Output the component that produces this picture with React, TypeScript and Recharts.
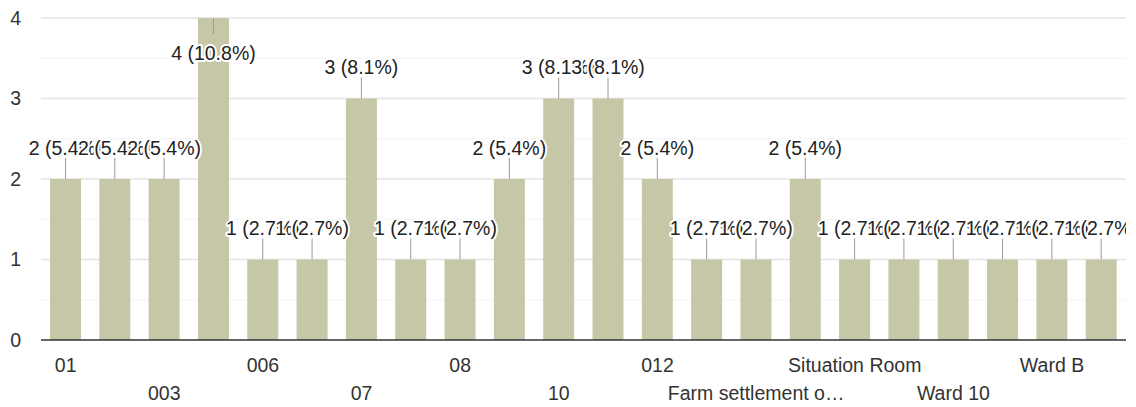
import React from 'react';
import { BarChart, Bar, XAxis, YAxis, CartesianGrid, LabelList } from 'recharts';

// ---- data ----
const categories = [
  '01', '02', '003', '004', '006', '06', '07', '007', '08', '09', '10', '11',
  '012', '12', 'Farm settlement office', 'Kitchen', 'Situation Room', 'Ward 1',
  'Ward 10', 'Ward A', 'Ward B', 'Ward C',
];
const counts = [2, 2, 2, 4, 1, 1, 3, 1, 1, 2, 3, 3, 2, 1, 1, 2, 1, 1, 1, 1, 1, 1];
const yTicks = [0, 1, 2, 3, 4];
const majorGrid = [1, 2, 3, 4];
const minorGrid = [0.5, 1.5, 2.5, 3.5];

const total = counts.reduce((a, b) => a + b, 0);
const data = categories.map((name, i) => ({ name, count: counts[i] }));

// ---- layout ----
const W = 1136;
const H = 407;
const margin = { top: 18, right: 10, left: 0, bottom: 0 };
const Y_AXIS_W = 41;
const X_AXIS_H = 67;
const plotRight = W - margin.right;
const plotTop = margin.top;
const plotBottom = H - margin.bottom - X_AXIS_H;
const FONT = '"Liberation Sans", Arial, Helvetica, sans-serif';
const FS = 19.5;
const BAR_COLOR = '#c6c7a7';

const BarLabel = (props: any) => {
  const { x, y, width, value, index } = props;
  const cx = Number(x) + Number(width) / 2;
  const top = Number(y);
  const inside = top - 40 < plotTop;
  const stemEnd = inside ? top + 16 : top - 21;
  const ty = inside ? top + 35 : top - 31;
  const text = `${value} (${((Number(value) / total) * 100).toFixed(1)}%)`;
  const clipId = `lblclip${index}`;
  return (
    <g>
      <defs>
        <clipPath id={clipId}>
          <rect x={0} y={plotTop} width={plotRight} height={plotBottom - plotTop} />
        </clipPath>
      </defs>
      <g clipPath={`url(#${clipId})`}>
        <line x1={cx} x2={cx} y1={top} y2={stemEnd} stroke="#9a9a9a" strokeWidth={1} />
        <text
          x={cx}
          y={ty}
          dy="0.35em"
          textAnchor="middle"
          fontSize={FS}
          fontFamily={FONT}
          fill="#222"
          stroke="#fff"
          strokeWidth={4}
          strokeLinejoin="round"
          paintOrder="stroke"
        >
          {text}
        </text>
      </g>
    </g>
  );
};

const XTick = (props: any) => {
  const { x, y, payload } = props;
  const idx = categories.indexOf(payload.value);
  if (idx % 2 !== 0) return <g />;
  const row = (idx / 2) % 2;
  let label: string = payload.value;
  if (label.length > 17) label = label.slice(0, 17) + '…';
  return (
    <text
      x={x}
      y={Number(y) + (row ? 53 : 25)}
      dy="0.35em"
      textAnchor="middle"
      fontSize={FS}
      fontFamily={FONT}
      fill="#333"
    >
      {label}
    </text>
  );
};

const YTick = (props: any) => {
  const { x, y, payload } = props;
  return (
    <text x={x} y={y} dy="0.35em" textAnchor="end" fontSize={FS} fontFamily={FONT} fill="#333">
      {payload.value}
    </text>
  );
};

export default function App() {
  return (
    <div style={{ position: 'absolute', left: 0, top: 0, width: W, height: H, background: '#fff' }}>
      <BarChart width={W} height={H} data={data} margin={margin} barSize={31}>
        <CartesianGrid vertical={false} horizontalValues={minorGrid} stroke="#f3f3f3" strokeWidth={1} />
        <CartesianGrid vertical={false} horizontalValues={majorGrid} stroke="#e4e4e4" strokeWidth={1.3} />
        <XAxis
          dataKey="name"
          interval={0}
          height={X_AXIS_H}
          tickLine={false}
          tickSize={0}
          tickMargin={0}
          axisLine={{ stroke: '#333', strokeWidth: 1.5 }}
          tick={<XTick />}
        />
        <YAxis
          width={Y_AXIS_W}
          domain={[0, 4]}
          ticks={yTicks}
          tickLine={false}
          axisLine={false}
          tickSize={0}
          tickMargin={20}
          tick={<YTick />}
        />
        <Bar dataKey="count" fill={BAR_COLOR} isAnimationActive={false}>
          <LabelList dataKey="count" content={<BarLabel />} />
        </Bar>
      </BarChart>
    </div>
  );
}
